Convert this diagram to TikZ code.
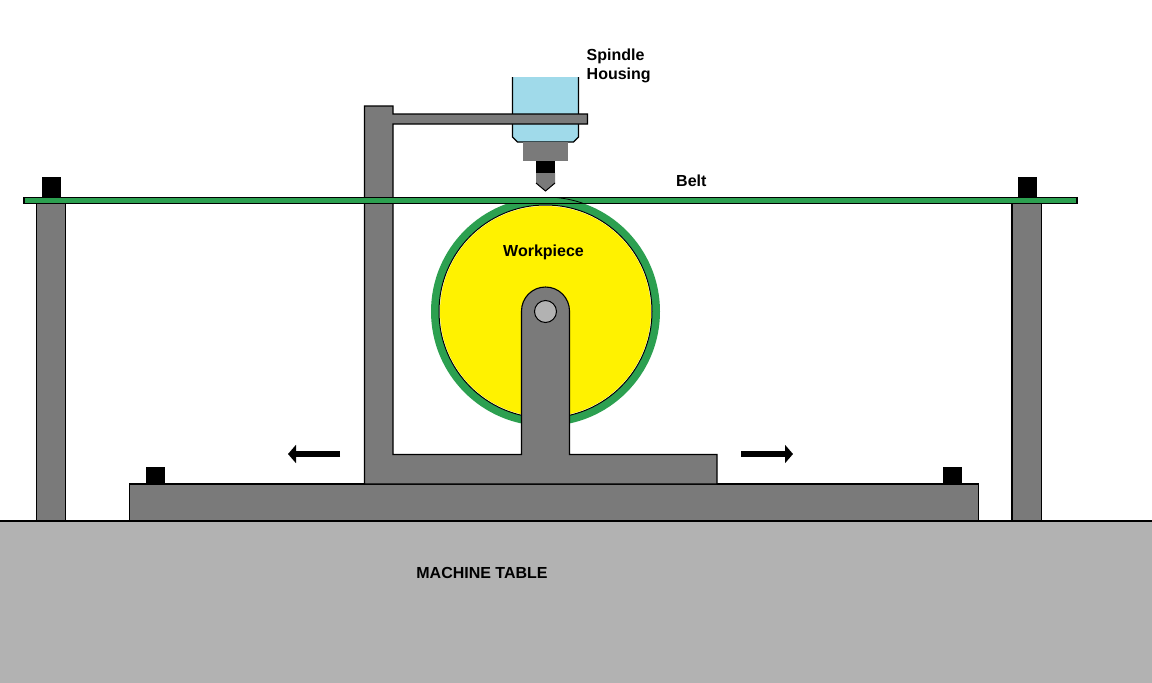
\documentclass[tikz,border=0pt]{standalone}
\usepackage{fontspec}
\setmainfont{Liberation Sans}
\usetikzlibrary{arrows.meta}
\definecolor{tablegray}{HTML}{B2B2B2}
\definecolor{steelgray}{HTML}{7A7A7A}
\definecolor{housingblue}{HTML}{A0DAEA}
\definecolor{beltcolor}{HTML}{2CA050}
\definecolor{wheelyellow}{HTML}{FFF200}

\begin{document}
\begin{tikzpicture}[x=1pt,y=-1pt]
\tikzstyle{steel}=[draw=black,line width=1.1pt,fill=steelgray]
\tikzstyle{stopblock}=[fill=black]
\tikzstyle{label}=[font=\fontsize{16}{19}\selectfont\bfseries,inner sep=0pt]
\tikzstyle{motion}=[line width=6pt,-{Triangle[length=8pt,width=18pt]}]

\useasboundingbox (0,0) rectangle (1152,683);
\fill[white] (0,0) rectangle (1152,683);

% machine table
\fill[tablegray] (0,521) rectangle (1152,683);
\draw[line width=1.1pt] (0,521) -- (1152,521);

% belt posts and clamps
\draw[steel] (36.5,203) rectangle (65.5,521);
\draw[steel] (1012,203) rectangle (1041.5,521);
\fill[stopblock] (42,177) rectangle (61,197);
\fill[stopblock] (1018,177) rectangle (1037,197);

% sliding base
\draw[steel] (129.5,484) rectangle (978.5,520.5);
\fill[stopblock] (146,467) rectangle (165,484);
\fill[stopblock] (943,467) rectangle (962,484);

% workpiece with the belt wrapped around it
\fill[beltcolor] (545.5,311.5) circle (114.5);
\draw[line width=1pt,fill=white] (545.5,311.5) circle (106.5);
\fill[wheelyellow] (545.5,311.5) circle (105.5);

% spindle
\draw[line width=1.1pt,fill=housingblue] (512.5,77) -- (512.5,137) -- (517.5,142)
  -- (573.5,142) -- (578.5,137) -- (578.5,77);
\fill[steelgray] (523,142) rectangle (568,161);
\fill[stopblock] (536,161) rectangle (555,173);
\fill[steelgray] (536,173) -- (555,173) -- (555,183) -- (545.5,191) -- (536,183) -- cycle;
\draw[line width=1pt] (536,183) -- (545.5,191) -- (555,183);

% carriage with column and upright
\draw[steel] (364.5,106) -- (393,106) -- (393,114) -- (587.5,114) -- (587.5,124)
  -- (393,124) -- (393,454.5) -- (521.5,454.5) -- (521.5,311)
  arc (180:360:24) -- (569.5,454.5) -- (717,454.5) -- (717,484) -- (364.5,484) -- cycle;
\draw[line width=1pt,fill=tablegray] (545.5,311.5) circle (11);

% belt
\draw[line width=1.1pt,fill=beltcolor] (24,197.3) rectangle (1077,203.5);
\draw[line width=.8pt] (545.5,311.5) ++(276:114.5) arc (276:289:114.5);

% feed directions
\coordinate (feedL0) at (340,454);
\coordinate (feedL1) at (288,454);
\coordinate (feedR0) at (741,454);
\coordinate (feedR1) at (793,454);
\draw[motion] (feedL0) -- (feedL1);
\draw[motion] (feedR0) -- (feedR1);

\node[label,anchor=west,align=left] at (586.5,65.5) (spindlelabel) {Spindle\\Housing};
\node[label,anchor=west] at (676,181) (beltlabel) {Belt};
\node[label] at (543.5,252) (workpiecelabel) {Workpiece};
\node[label] at (482,573) (tablelabel) {MACHINE TABLE};
\end{tikzpicture}
\end{document}
